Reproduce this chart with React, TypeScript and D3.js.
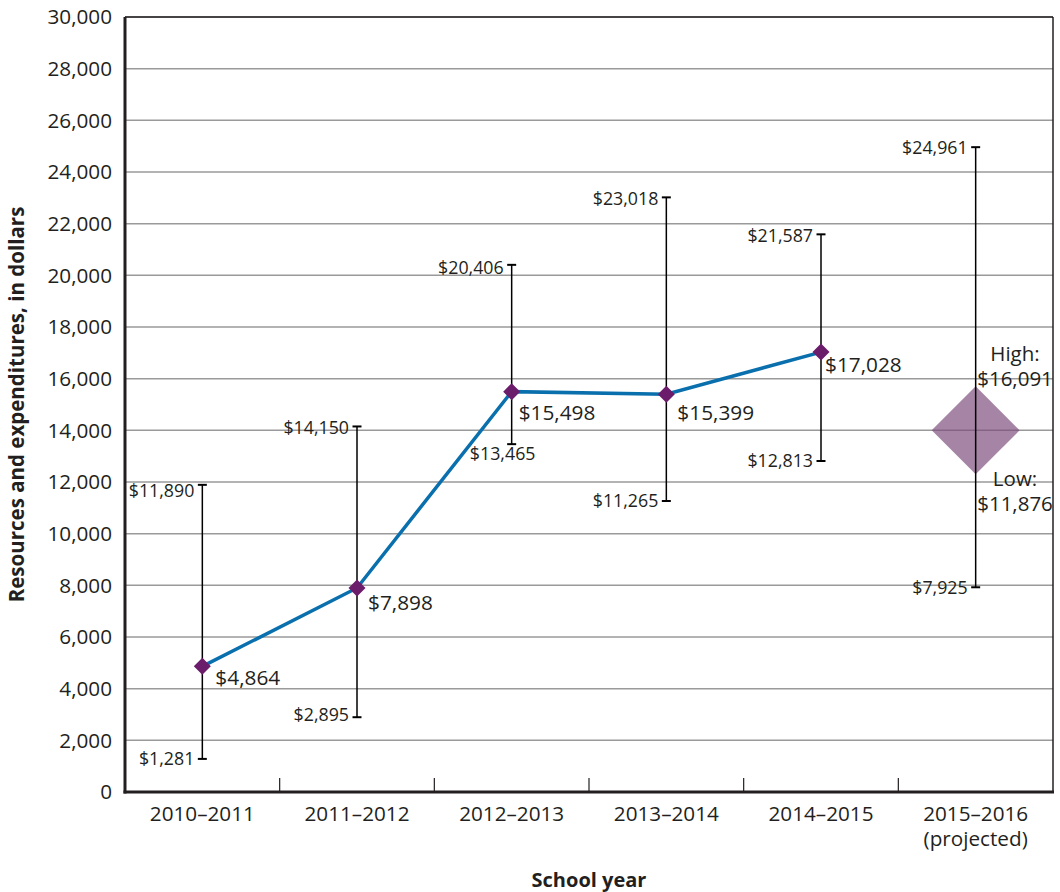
import React from "react";
import * as d3 from "d3";

const categories = ["2010–2011", "2011–2012", "2012–2013", "2013–2014", "2014–2015", "2015–2016"];
const categorySub = ["", "", "", "", "", "(projected)"];
const actualValues = [4864, 7898, 15498, 15399, 17028];
const rangeLow = [1281, 2895, 13465, 11265, 12813, 7925];
const rangeHigh = [11890, 14150, 20406, 23018, 21587, 24961];
const projectedMid = 14000;
const projectedHigh = 16091;
const projectedLow = 11876;
const yTicks = d3.range(0, 30001, 2000);

// label nudges (layout only)
const valueLabelDx = [13, 11, 7, 11, 4];
const valueLabelDy = [11, 15, 21, 19, 13];

const W = 1060;
const H = 892;
const M = { left: 125, right: 1053, top: 17, bottom: 792 };
const FONT = "'Open Sans', 'Noto Sans', sans-serif";

const fmt = d3.format(",");

export default function App() {
  const x = d3.scaleBand<string>().domain(categories).range([M.left, M.right]);
  const xc = (c: string) => (x(c) as number) + x.bandwidth() / 2;
  const y = d3.scaleLinear().domain([0, 30000]).range([M.bottom, M.top]);

  const lineData = actualValues.map((v, i) => [xc(categories[i]), y(v)] as [number, number]);
  const line = d3.line()(lineData) || "";
  const diamond = (cx: number, cy: number, r: number) =>
    `M${cx},${cy - r}L${cx + r},${cy}L${cx},${cy + r}L${cx - r},${cy}Z`;

  const px = xc(categories[5]);
  const py = y(projectedMid);
  const pHalf = 44;
  const lblX = 1015;

  return (
    <svg width={W} height={H} style={{ display: "block", position: "absolute", left: 0, top: 0 }} fontFamily={FONT}>
      <rect x={0} y={0} width={W} height={H} fill="#fff" />
      {/* grid */}
      {yTicks.map((t) => (
        <line key={t} x1={M.left} x2={M.right} y1={y(t)} y2={y(t)} stroke="#9a9a9a" strokeWidth={1.5} />
      ))}
      {/* frame */}
      <line x1={M.left} x2={M.right} y1={M.top} y2={M.top} stroke="#231f20" strokeWidth={1.5} />
      <line x1={M.right} x2={M.right} y1={M.top} y2={M.bottom} stroke="#231f20" strokeWidth={1.5} />
      {/* y tick labels */}
      {yTicks.map((t) => (
        <text key={t} x={112} y={y(t)} dy="0.35em" textAnchor="end" fontSize={20.7} fill="#231f20">
          {fmt(t)}
        </text>
      ))}
      {/* x ticks between categories */}
      {categories.slice(1).map((c) => (
        <line key={c} x1={x(c) as number} x2={x(c) as number} y1={M.bottom - 14} y2={M.bottom} stroke="#231f20" strokeWidth={1.2} />
      ))}
      {/* projected diamond */}
      <path d={diamond(px, py, pHalf)} fill="#7b4a7b" fillOpacity={0.68} />
      {/* error bars */}
      {categories.map((c, i) => {
        const cx = xc(c);
        const yl = y(rangeLow[i]);
        const yh = y(rangeHigh[i]);
        const lowBelow = i === 2;
        return (
          <g key={c}>
            <line x1={cx} x2={cx} y1={yh} y2={yl} stroke="#000" strokeWidth={1.5} />
            <line x1={cx - 4.5} x2={cx + 4.5} y1={yh} y2={yh} stroke="#000" strokeWidth={2} />
            <line x1={cx - 4.5} x2={cx + 4.5} y1={yl} y2={yl} stroke="#000" strokeWidth={2} />
            <text x={cx - 8} y={yh + (i === 0 ? 6 : i === 2 ? 3 : 1)} dy="0.35em" textAnchor="end" fontSize={17.8} fill="#231f20">
              ${fmt(rangeHigh[i])}
            </text>
            {lowBelow ? (
              <text x={cx - 9} y={yl + 10} dy="0.35em" textAnchor="middle" fontSize={17.8} fill="#231f20">
                ${fmt(rangeLow[i])}
              </text>
            ) : (
              <text x={cx - 8} y={yl + (i === 1 ? -2 : 0)} dy="0.35em" textAnchor="end" fontSize={17.8} fill="#231f20">
                ${fmt(rangeLow[i])}
              </text>
            )}
          </g>
        );
      })}
      {/* line */}
      <path d={line} fill="none" stroke="#0a6fad" strokeWidth={3.5} />
      {actualValues.map((v, i) => {
        const cx = xc(categories[i]);
        const cy = y(v);
        return (
          <g key={i}>
            <path d={diamond(cx, cy, 8.5)} fill="#6b1d6b" />
            <text x={cx + valueLabelDx[i]} y={cy + valueLabelDy[i]} dy="0.35em" fontSize={20.8} fill="#231f20">
              ${fmt(v)}
            </text>
          </g>
        );
      })}
      {/* projected labels */}
      <text x={lblX} y={y(projectedMid) - 77} dy="0.35em" textAnchor="middle" fontSize={20.5} fill="#231f20">High:</text>
      <text x={lblX} y={y(projectedMid) - 52} dy="0.35em" textAnchor="middle" fontSize={20.5} fill="#231f20">${fmt(projectedHigh)}</text>
      <text x={lblX} y={y(projectedMid) + 48} dy="0.35em" textAnchor="middle" fontSize={20.5} fill="#231f20">Low:</text>
      <text x={lblX} y={y(projectedMid) + 73} dy="0.35em" textAnchor="middle" fontSize={20.5} fill="#231f20">${fmt(projectedLow)}</text>
      {/* axes */}
      <line x1={M.left} x2={M.left} y1={M.top} y2={M.bottom + 1.5} stroke="#231f20" strokeWidth={3} />
      <line x1={M.left - 1.5} x2={M.right + 1} y1={M.bottom} y2={M.bottom} stroke="#231f20" strokeWidth={3} />
      {/* x labels */}
      {categories.map((c, i) => (
        <g key={c}>
          <text x={xc(c)} y={821} textAnchor="middle" fontSize={20.7} fill="#231f20">{c}</text>
          {categorySub[i] && (
            <text x={xc(c)} y={846} textAnchor="middle" fontSize={20.7} fill="#231f20">{categorySub[i]}</text>
          )}
        </g>
      ))}
      <text x={589} y={887} textAnchor="middle" fontSize={20} fontWeight="bold" fill="#231f20">School year</text>
      <text transform={`translate(24,${(M.top + M.bottom) / 2}) rotate(-90)`} textAnchor="middle" fontSize={20.5} fontWeight="bold" fill="#231f20">
        Resources and expenditures, in dollars
      </text>
    </svg>
  );
}
